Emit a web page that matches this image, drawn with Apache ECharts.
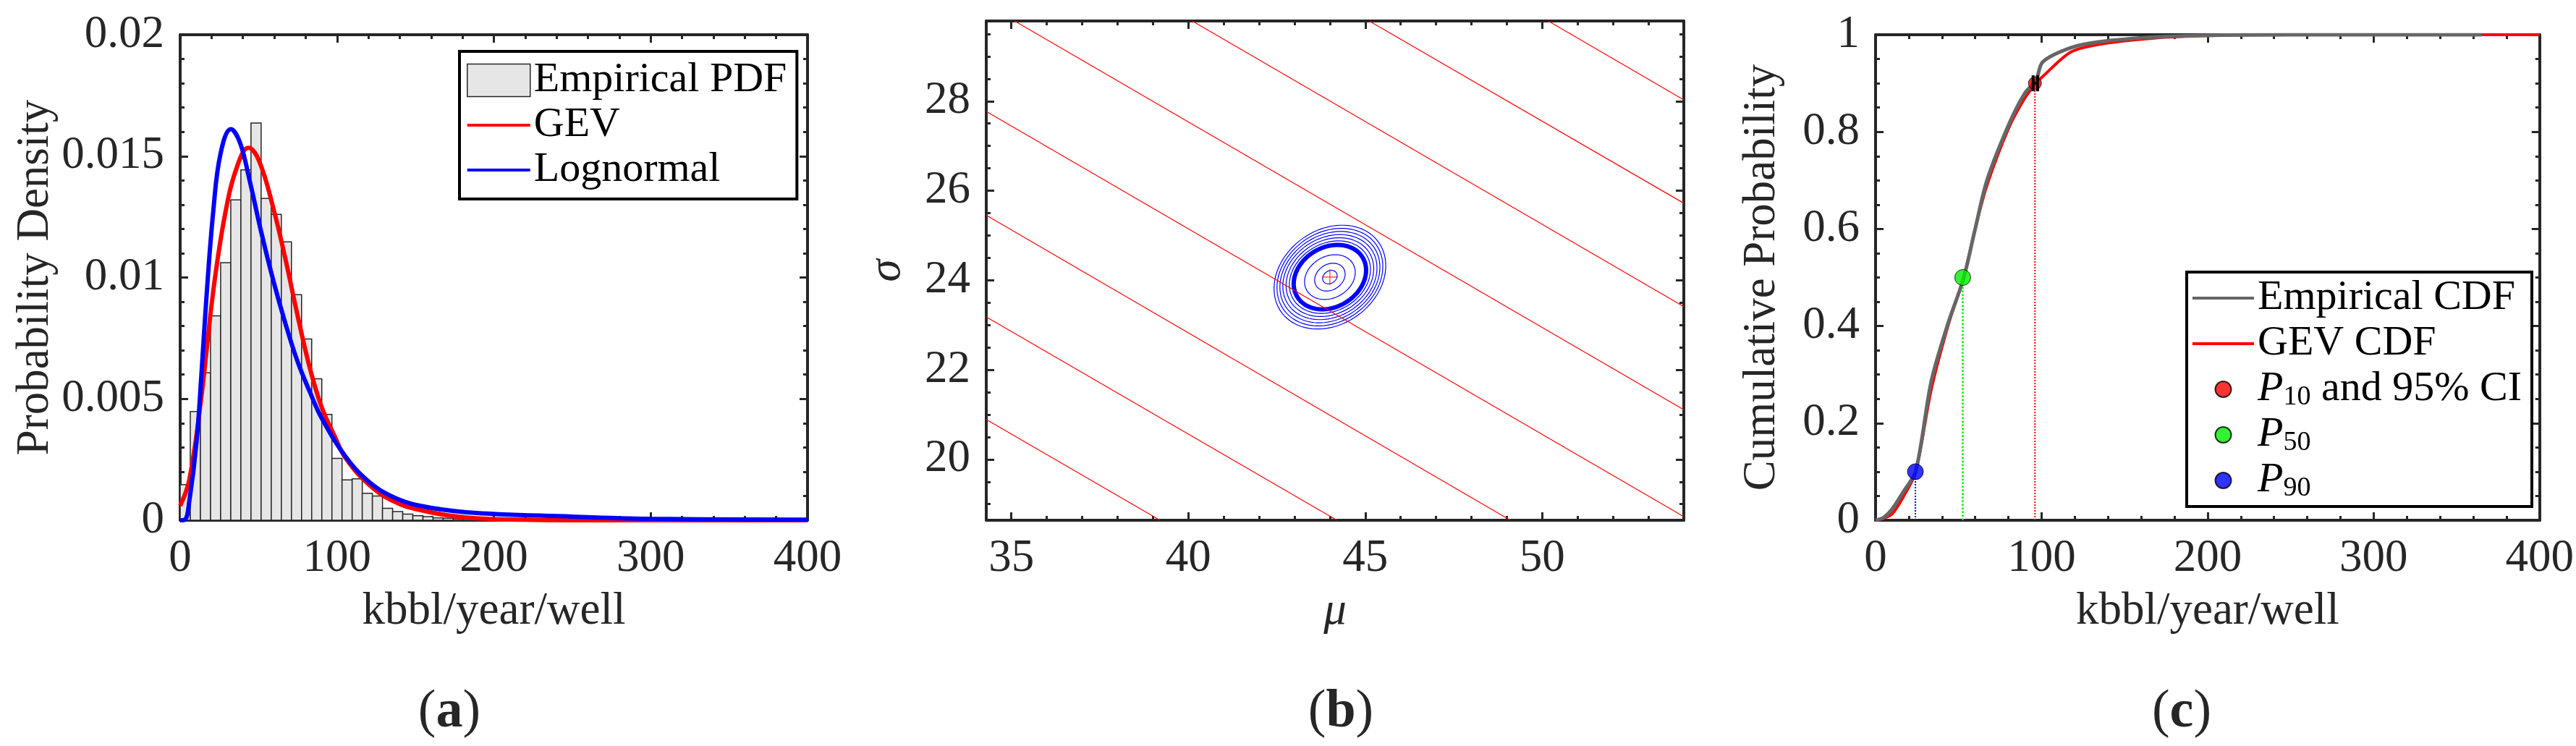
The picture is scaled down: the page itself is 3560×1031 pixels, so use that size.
<!DOCTYPE html>
<html>
<head>
<meta charset="utf-8">
<script src="https://cdn.jsdelivr.net/npm/echarts@6/dist/echarts.min.js"></script>
</head>
<body style="margin:0;background:#fff">
<div id="main" style="width:3560px;height:1031px;"></div>
<script>
// ---- panel (a) histogram + fitted pdfs ----
var binWidth = 6.45;
var histHeights = [0.00147, 0.00448, 0.00607, 0.00842, 0.01061, 0.0132, 0.01443, 0.01636, 0.01326, 0.0126,
  0.01147, 0.00929, 0.00747, 0.00583, 0.00436, 0.00255, 0.00166, 0.00171, 0.00111, 0.001,
  0.00049, 0.00036, 0.00025, 0.00019, 0.00015, 0.0001, 0.00008, 0.00006, 0.00005, 0.00004,
  0.00003, 0.00002, 0.00002, 0.00001];
var gevPdf = [[0,0.0006],[5.8,0.00166],[13.5,0.00508],[21.2,0.0095],[28.9,0.0127],[36.6,0.01463],[43.5,0.01534],
  [50.4,0.01479],[59.6,0.0128],[67.3,0.0107],[75,0.00839],[82.6,0.00629],[90.3,0.00464],[98,0.00353],
  [105.7,0.00254],[121,0.00143],[136.4,0.00077],[151.8,0.00044],[182.5,0.00011],[220,0.00002],[260,0],[400,0]];
var lognPdf = [[0,0],[3,0.00002],[5.8,0.00077],[10.4,0.0032],[13.5,0.00596],[16.6,0.00905],[21.2,0.0128],
  [25.8,0.01512],[32.3,0.01611],[38.1,0.01556],[44.2,0.01402],[51.9,0.01181],[59.6,0.00982],[67.3,0.00806],
  [75,0.00651],[82.6,0.0053],[90.3,0.0042],[105.7,0.0026],[121,0.00155],[136.4,0.00094],[151.8,0.00061],
  [182.5,0.00033],[250,0.00015],[300,0.00006],[400,0.00002]];
var aXTicks = [0, 100, 200, 300, 400];
var aYTicks = [0, 0.005, 0.01, 0.015, 0.02];

// ---- panel (b) likelihood contours ----
var bXTicks = [35, 40, 45, 50];
var bYTicks = [20, 22, 24, 26, 28];
// red parallel contour lines, [mu, sigma] endpoints
var redLines = [
  [[34.29,27.77],[54.0,18.72]],
  [[34.29,25.45],[49.1,18.64]],
  [[34.29,23.18],[44.2,18.64]],
  [[34.29,20.89],[39.2,18.64]],
  [[35.09,29.79],[54.0,21.11]],
  [[40.11,29.79],[54.0,23.41]],
  [[45.11,29.79],[54.0,25.72]],
  [[50.17,29.79],[54.0,28.03]]
];
var mleCenter = [44.0, 24.07];
// rings: [mu centre, sigma centre, mu half-width, sigma half-height, lean, line width]
var rings = [
  [44.0,24.07,0.2,0.15,0.3,1.2],[44.0,24.07,0.42,0.31,0.3,1.2],[44.0,24.07,0.7,0.5,0.3,1.2],
  [44.0,24.07,1.0,0.72,0.3,6],[44.0,24.07,1.12,0.81,0.3,1.2],[44.0,24.07,1.21,0.88,0.3,1.2],
  [44.0,24.07,1.3,0.95,0.3,1.2],[44.0,24.07,1.38,1.02,0.3,1.2],[44.0,24.07,1.46,1.09,0.3,1.2],
  [44.0,24.07,1.54,1.16,0.3,1.2]
];

// ---- panel (c) CDFs ----
var empCdf = [[0,0],[5,0.006],[10,0.023],[17,0.06],[24.2,0.101],[33.6,0.287],[43.6,0.405],[53,0.498],
  [60,0.6],[67.1,0.70],[80.5,0.817],[90,0.88],[96.6,0.905],[100.7,0.944],[117.4,0.973],[134.2,0.985],
  [167.8,0.995],[201,0.999],[250,1],[365,1]];
var gevCdf = [[0,0],[5,0.004],[10,0.013],[17,0.05],[24.2,0.1],[33.6,0.27],[43.6,0.4],[53,0.5],
  [60,0.6],[67.1,0.69],[80.5,0.81],[90,0.87],[96.6,0.9],[100.7,0.914],[117.4,0.964],[134.2,0.98],
  [167.8,0.993],[201,0.998],[250,1],[400,1]];
var p90 = [24, 0.1], p50 = [52.5, 0.5], p10 = [96, 0.9];
var p10Ci = [94.9, 97.6];
var cXTicks = [0, 100, 200, 300, 400];
var cYTicks = [0, 0.2, 0.4, 0.6, 0.8, 1];

var FONT = 'Liberation Serif';
var INK = '#262626';
// line icons whose path bounds match the legend item box, so nothing gets squeezed
var LINE_ICON = 'path://M0,0 L0.01,0 L0.01,0.01 Z M0,20.5 L87,20.5 L87,24.5 L0,24.5 Z M86.99,44.99 L87,44.99 L87,45 Z';
var LINE_ICON_C = 'path://M0,0 L0.01,0 L0.01,0.01 Z M0,9 L85,9 L85,13 L0,13 Z M84.99,21.99 L85,21.99 L85,22 Z';

function range(a, b, step) {
  var out = [];
  for (var v = a; v <= b + 1e-9; v += step) out.push(+v.toFixed(6));
  return out;
}

// four axes per side: main (labels), minor, opposite major, opposite minor
function boxAxes(dim, grid, min, max, majors, minors, name, nameGap) {
  var pos = dim == 'x' ? ['bottom', 'top'] : ['left', 'right'];
  var base = {gridIndex: grid, type: 'value', min: min, max: max, splitLine: {show: false}};
  function ax(p, ticks, len, main, line) {
    var o = Object.assign({}, base, {
      position: p,
      axisLine: {show: line, onZero: false, lineStyle: {color: INK, width: 4}},
      axisTick: {show: true, inside: true, length: len, customValues: ticks, lineStyle: {color: INK, width: 3}},
      axisLabel: {show: main, customValues: ticks, color: INK, fontFamily: FONT, fontSize: 63, margin: 22}
    });
    if (main) {
      o.name = name; o.nameLocation = 'middle'; o.nameGap = nameGap;
      o.nameTextStyle = {color: INK, fontFamily: FONT, fontSize: 63, fontStyle: (name.length == 1 ? 'italic' : 'normal')};
    }
    return o;
  }
  return [ax(pos[0], majors, 11, true, true), ax(pos[0], minors, 6, false, false),
          ax(pos[1], majors, 11, false, true), ax(pos[1], minors, 6, false, false)];
}

var xAxes = [].concat(
  boxAxes('x', 0, 0, 400, aXTicks, range(0, 400, 20), 'kbbl/year/well', 95),
  boxAxes('x', 1, 34.29, 54.0, bXTicks, range(35, 54, 1), 'μ', 95),
  boxAxes('x', 2, 0, 400, cXTicks, range(0, 400, 20), 'kbbl/year/well', 95));
var yAxes = [].concat(
  boxAxes('y', 0, 0, 0.02, aYTicks, range(0, 0.02, 0.001), 'Probability Density', 165),
  boxAxes('y', 1, 18.64, 29.79, bYTicks, range(19, 29.5, 0.5), 'σ', 105),
  boxAxes('y', 2, 0, 1, cYTicks, range(0, 1, 0.05), 'Cumulative Probability', 125));

var histData = histHeights.map(function (h, i) { return [i * binWidth, (i + 1) * binWidth, h]; });

var series = [
  {
    name: 'Empirical PDF', type: 'custom', xAxisIndex: 0, yAxisIndex: 0, data: histData,
    itemStyle: {color: '#e6e6e6'},
    renderItem: function (params, api) {
      var p0 = api.coord([api.value(0), api.value(2)]);
      var p1 = api.coord([api.value(1), 0]);
      return {type: 'rect', shape: {x: p0[0], y: p0[1], width: p1[0] - p0[0], height: p1[1] - p0[1]},
        style: {fill: '#e6e6e6', stroke: INK, lineWidth: 1.5}};
    }
  },
  {name: 'GEV', type: 'line', xAxisIndex: 0, yAxisIndex: 0, data: gevPdf, smooth: 0.4, symbol: 'none',
    lineStyle: {color: '#ff0000', width: 6}, itemStyle: {color: '#ff0000'}},
  {name: 'Lognormal', type: 'line', xAxisIndex: 0, yAxisIndex: 0, data: lognPdf, smooth: 0.4, symbol: 'none',
    lineStyle: {color: '#0000ff', width: 6}, itemStyle: {color: '#0000ff'}}
];

redLines.forEach(function (l) {
  series.push({type: 'line', xAxisIndex: 4, yAxisIndex: 4, data: l, symbol: 'none', silent: true,
    lineStyle: {color: '#ff0000', width: 1.2}});
});
series.push({
  type: 'custom', xAxisIndex: 4, yAxisIndex: 4, data: rings, silent: true,
  renderItem: function (params, api) {
    var cx = api.value(0), cy = api.value(1), rx = api.value(2), ry = api.value(3), k = api.value(4);
    var pts = [];
    for (var i = 0; i <= 90; i++) {
      var t = i / 90 * Math.PI * 2;
      var dy = ry * Math.sin(t);
      pts.push(api.coord([cx + rx * Math.cos(t) + k * dy, cy + dy]));
    }
    return {type: 'polyline', shape: {points: pts}, style: {stroke: '#0000ff', fill: null, lineWidth: api.value(5)}};
  }
});
series.push({type: 'scatter', xAxisIndex: 4, yAxisIndex: 4, data: [mleCenter], silent: true,
  symbol: 'path://M0,5 L10,5 M5,0 L5,10', symbolSize: 22,
  itemStyle: {color: 'none', borderColor: '#ff0000', borderWidth: 1.2}});

series.push(
  {name: 'Empirical CDF', type: 'line', xAxisIndex: 8, yAxisIndex: 8, data: empCdf, smooth: 0.3, symbol: 'none',
    lineStyle: {color: '#666666', width: 5}, itemStyle: {color: '#666666'}, z: 3},
  {name: 'GEV CDF', type: 'line', xAxisIndex: 8, yAxisIndex: 8, data: gevCdf, smooth: 0.3, symbol: 'none',
    lineStyle: {color: '#ff0000', width: 4}, itemStyle: {color: '#ff0000'}, z: 2},
  {type: 'line', xAxisIndex: 8, yAxisIndex: 8, data: [[p90[0], 0], p90], symbol: 'none', silent: true,
    lineStyle: {color: '#0000ff', width: 2, type: 'dotted'}},
  {type: 'line', xAxisIndex: 8, yAxisIndex: 8, data: [[p50[0], 0], p50], symbol: 'none', silent: true,
    lineStyle: {color: '#00ee00', width: 2.5, type: 'dotted'}},
  {type: 'line', xAxisIndex: 8, yAxisIndex: 8, data: [[p10[0], 0], p10], symbol: 'none', silent: true,
    lineStyle: {color: '#ff0000', width: 2, type: 'dotted'}},
  {name: 'P10', type: 'scatter', xAxisIndex: 8, yAxisIndex: 8, data: [p10], symbolSize: 18,
    itemStyle: {color: '#ff0000', borderColor: '#000', borderWidth: 1}, z: 6},
  {type: 'line', xAxisIndex: 8, yAxisIndex: 8, data: [[p10Ci[0], p10[1]], [p10Ci[1], p10[1]]], silent: true,
    symbol: 'rect', symbolSize: [4, 22], lineStyle: {color: '#000', width: 3}, itemStyle: {color: '#000'}, z: 7},
  {name: 'P50', type: 'scatter', xAxisIndex: 8, yAxisIndex: 8, data: [p50], symbolSize: 22,
    itemStyle: {color: '#00ee00', borderColor: '#000', borderWidth: 1}, z: 6},
  {name: 'P90', type: 'scatter', xAxisIndex: 8, yAxisIndex: 8, data: [p90], symbolSize: 22,
    itemStyle: {color: '#0000ff', borderColor: '#000', borderWidth: 1}, z: 6}
);

var legendText = {color: '#000', fontFamily: FONT, fontSize: 58, lineHeight: 60,
  rich: {i: {fontFamily: FONT, fontSize: 58, fontStyle: 'italic', color: '#000', lineHeight: 60},
         s: {fontFamily: FONT, fontSize: 38, color: '#000', lineHeight: 60, verticalAlign: 'bottom', padding: [12, 0, 0, 0]}}};
var legendNames = {'P10': '{i|P}{s|10} and 95% CI', 'P50': '{i|P}{s|50}', 'P90': '{i|P}{s|90}'};

function panelTitle(letter, x) {
  return {text: '({b|' + letter + '})', left: x, top: 980, textAlign: 'center', textVerticalAlign: 'middle',
    textStyle: {fontFamily: FONT, fontSize: 74, fontWeight: 'normal', color: INK,
      rich: {b: {fontFamily: FONT, fontSize: 74, fontWeight: 'bold', color: INK}}}};
}

var option = {
  animation: false,
  title: [panelTitle('a', 616), panelTitle('b', 1848), panelTitle('c', 3010)],
  grid: [
    {left: 249, top: 48, width: 867, height: 671},
    {left: 1363, top: 29, width: 964, height: 690},
    {left: 2592, top: 48, width: 924, height: 671}
  ],
  xAxis: xAxes,
  yAxis: yAxes,
  legend: [
    {left: 635, top: 71, orient: 'vertical', itemWidth: 87, itemHeight: 45, itemGap: 2,
      borderColor: '#000', borderWidth: 4, backgroundColor: '#fff', padding: [10, 14, 10, 10],
      textStyle: legendText,
      data: [{name: 'Empirical PDF', icon: 'rect', itemStyle: {color: '#e6e6e6', borderColor: INK, borderWidth: 1.5}},
        {name: 'GEV', icon: LINE_ICON}, {name: 'Lognormal', icon: LINE_ICON}]},
    {left: 3022, top: 376, orient: 'vertical', itemWidth: 85, itemHeight: 22, itemGap: 3,
      borderColor: '#000', borderWidth: 4, backgroundColor: '#fff', padding: [6, 14, 6, 8],
      textStyle: legendText,
      formatter: function (n) { return legendNames[n] || n; },
      data: [{name: 'Empirical CDF', icon: LINE_ICON_C}, {name: 'GEV CDF', icon: LINE_ICON_C}, 'P10', 'P50', 'P90']}
  ],
  series: series
};

var myChart = echarts.init(document.getElementById('main'));
myChart.setOption(option);
</script>
</body>
</html>
